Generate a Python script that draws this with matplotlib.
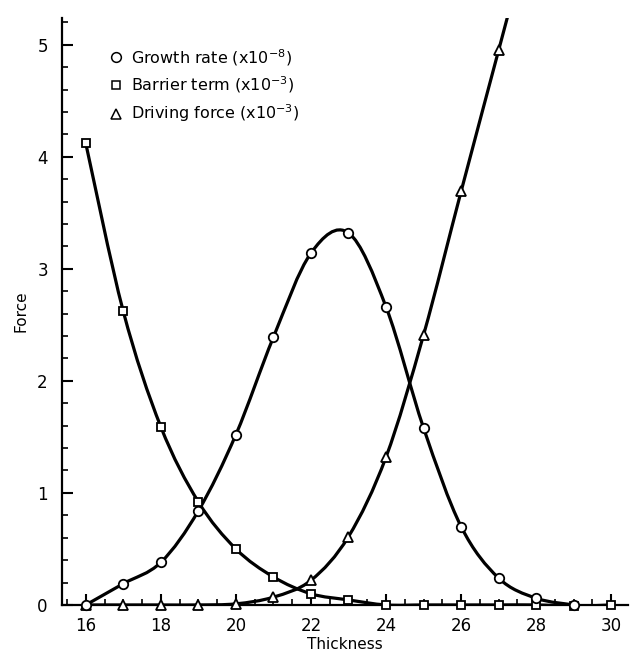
import numpy as np
import matplotlib
matplotlib.use("Agg")
import matplotlib.pyplot as plt
from matplotlib.path import Path
from matplotlib.patches import PathPatch
from matplotlib.lines import Line2D
from matplotlib.ticker import MultipleLocator

# ---- data ----
thickness = [16, 17, 18, 19, 20, 21, 22, 23, 24, 25, 26, 27, 28, 29, 30]
growth_x = [16, 17, 18, 19, 20, 21, 22, 23, 24, 25, 26, 27, 28, 29]
growth_rate = [0.0, 0.19, 0.38, 0.84, 1.52, 2.39, 3.14, 3.32, 2.66, 1.58, 0.70, 0.24, 0.06, 0.0]
barrier_term = [4.12, 2.62, 1.59, 0.92, 0.50, 0.25, 0.10, 0.045, 0.0, 0.0, 0.0, 0.0, 0.0, -0.01, 0.0]
driving_x = [16, 17, 18, 19, 20, 21, 22, 23, 24, 25, 26, 27]
driving_force = [0.0, 0.0, 0.0, 0.0, 0.01, 0.07, 0.22, 0.61, 1.32, 2.41, 3.69, 4.95]

labels = [r"Growth rate (x10$^{-8}$)", r"Barrier term (x10$^{-3}$)", r"Driving force (x10$^{-3}$)"]
x_label = "Thickness"
y_label = "Force"


def smooth_path(xs, ys, extend_end=0.0):
    """Catmull-Rom curve through the points, drawn as cubic Bezier segments."""
    P = np.column_stack([xs, ys]).astype(float)
    n = len(P)
    verts = [tuple(P[0])]
    codes = [Path.MOVETO]
    for i in range(n - 1):
        p0 = P[i - 1] if i > 0 else P[i]
        p1 = P[i]
        p2 = P[i + 1]
        p3 = P[i + 2] if i + 2 < n else P[i + 1]
        c1 = p1 + (p2 - p0) / 6.0
        c2 = p2 - (p3 - p1) / 6.0
        verts += [tuple(c1), tuple(c2), tuple(p2)]
        codes += [Path.CURVE4] * 3
    if extend_end > 0:
        d = P[-1] - P[-2]
        end = P[-1] + d * extend_end
        verts.append(tuple(end))
        codes.append(Path.LINETO)
    return Path(verts, codes)


fig = plt.figure(figsize=(6.30, 6.59), dpi=100)
ax = fig.add_axes([0.098, 0.082, 0.899, 0.891])

lw = 2.3
for xs, ys, ext in [(growth_x, growth_rate, 0), (thickness, barrier_term, 0), (driving_x, driving_force, 0.4)]:
    patch = PathPatch(smooth_path(xs, ys, ext), facecolor="none", edgecolor="black", lw=lw,
                      capstyle="round", joinstyle="round", zorder=2)
    ax.add_patch(patch)

mk = dict(linestyle="none", markerfacecolor="white", markeredgecolor="black", markeredgewidth=1.3,
          clip_on=False, zorder=4)
ax.plot(thickness, barrier_term, marker="s", markersize=5.2, **mk)
ax.plot(driving_x, driving_force, marker="^", markersize=6.5, **mk)
ax.plot(growth_x, growth_rate, marker="o", markersize=6.8, **mk)

ax.set_xlim(15.36, 30.45)
ax.set_ylim(0, 5.24)

for s in ["top", "right"]:
    ax.spines[s].set_visible(False)
for s in ["left", "bottom"]:
    ax.spines[s].set_linewidth(1.6)

ax.xaxis.set_major_locator(MultipleLocator(2))
ax.xaxis.set_minor_locator(MultipleLocator(0.5))
ax.yaxis.set_major_locator(MultipleLocator(1))
ax.yaxis.set_minor_locator(MultipleLocator(0.2))
ax.tick_params(axis="both", which="major", direction="in", length=8, width=1.5, labelsize=12, pad=9)
ax.tick_params(axis="both", which="minor", direction="in", length=4, width=1.2)
ax.tick_params(axis="y", which="major", pad=10)

ax.set_xlabel(x_label, fontsize=11, labelpad=1)
ax.set_ylabel(y_label, fontsize=11, labelpad=6)

handles = [Line2D([], [], marker=m, markersize=s, linestyle="none", markerfacecolor="white",
                  markeredgecolor="black", markeredgewidth=1.1)
           for m, s in [("o", 7), ("s", 5.5), ("^", 7)]]
ax.legend(handles, labels, loc="upper left", bbox_to_anchor=(0.06, 0.975), frameon=False,
          fontsize=11.5, handlelength=0.8, handletextpad=0.5, labelspacing=0.45)

fig.savefig("out.png", dpi=100)
